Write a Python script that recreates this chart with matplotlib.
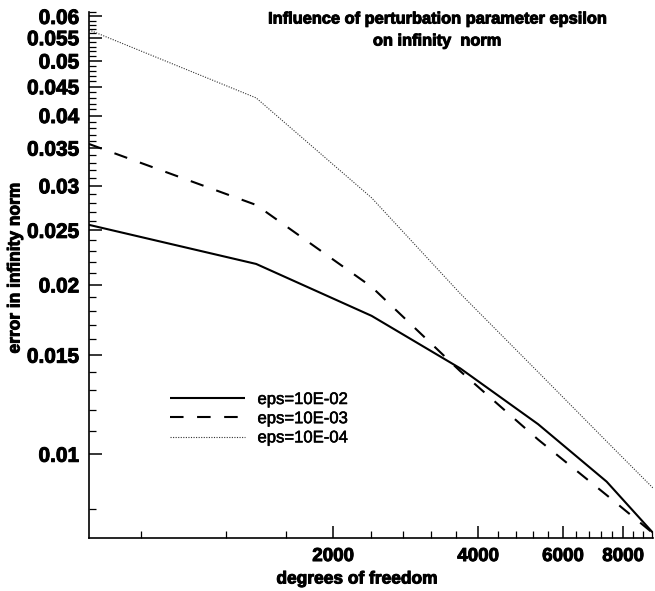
import matplotlib
matplotlib.use("Agg")
import matplotlib.pyplot as plt
import matplotlib.patheffects as pe
from matplotlib.ticker import FixedLocator, NullFormatter, FixedFormatter

plt.rcParams['font.family'] = ['Liberation Sans', 'DejaVu Sans']

# ---- data ----
dof = [623, 1385, 2405, 3670, 5330, 7396, 9230]
err_eps_1e2 = [0.02557, 0.02179, 0.01762, 0.01422, 0.01131, 0.00894, 0.00725]
err_eps_1e3 = [0.0356, 0.02774, 0.01984, 0.01406, 0.01062, 0.00846, 0.00724]
err_eps_1e4 = [0.05679, 0.04299, 0.02856, 0.01932, 0.0140, 0.01054, 0.00871]
labels = ["eps=10E-02", "eps=10E-03", "eps=10E-04"]

x_major = [2000, 4000, 6000, 8000]
x_major_labels = ["2000", "4000", "6000", "8000"]
y_major = [0.01, 0.015, 0.02, 0.025, 0.03, 0.035, 0.04, 0.045, 0.05, 0.055, 0.06]
y_major_labels = ["0.01", "0.015", "0.02", "0.025", "0.03", "0.035", "0.04",
                  "0.045", "0.05", "0.055", "0.06"]

title_l1 = "Influence of perturbation parameter epsilon"
title_l2 = "on infinity  norm"
xlabel = "degrees of freedom"
ylabel = "error in infinity norm"

heavy = [pe.withStroke(linewidth=0.7, foreground='black')]

W, H = 655, 591
fig = plt.figure(figsize=(W / 100, H / 100), dpi=100)
ax = fig.add_axes([89 / W, 1 - 538.3 / H, (653 - 89) / W, (538.3 - 12) / H])

ax.plot(dof, err_eps_1e2, color='black', lw=1.5, solid_capstyle='butt', label=labels[0])
ax.plot(dof, err_eps_1e3, color='black', lw=1.5, dashes=(6.5, 6.5), label=labels[1])
ax.plot(dof, err_eps_1e4, color='#333333', lw=0.8, linestyle=(0, (1, 1.3)), label=labels[2])

ax.set_xscale('log')
ax.set_yscale('log')
ax.set_xlim(dof[0], dof[-1])
ax.set_ylim(0.00709, 0.0611)

for s in ['top', 'right']:
    ax.spines[s].set_visible(False)
for s in ['left', 'bottom']:
    ax.spines[s].set_linewidth(1.2)

ax.xaxis.set_major_locator(FixedLocator(x_major))
ax.xaxis.set_major_formatter(FixedFormatter(x_major_labels))
x_minor = [v for v in range(800, 9600, 400) if v not in x_major]
ax.xaxis.set_minor_locator(FixedLocator(x_minor))
ax.xaxis.set_minor_formatter(NullFormatter())

ax.yaxis.set_major_locator(FixedLocator(y_major))
ax.yaxis.set_major_formatter(FixedFormatter(y_major_labels))
y_minor = [round(v * 0.001, 3) for v in range(8, 62)]
y_minor = [v for v in y_minor if all(abs(v - m) > 1e-6 for m in y_major) and abs(v - 0.009) > 1e-6]
ax.yaxis.set_minor_locator(FixedLocator(y_minor))
ax.yaxis.set_minor_formatter(NullFormatter())

ax.tick_params(which='major', direction='in', length=9, width=1.1, pad=7)
ax.tick_params(axis='x', which='major', labelsize=13.5)
ax.tick_params(axis='y', which='major', labelsize=15)
ax.tick_params(which='minor', direction='in', length=5, width=0.9)
for lab in ax.get_xticklabels() + ax.get_yticklabels():
    lab.set_fontweight('bold')
    lab.set_path_effects(heavy)

fig.text(15 / W, 1 - 268 / H, ylabel, rotation=90, ha='center', va='center',
         fontsize=12.5, fontweight='bold', path_effects=heavy)
fig.text(357 / W, 1 - 579 / H, xlabel, ha='center', va='center',
         fontsize=12.5, fontweight='bold', path_effects=heavy)
fig.text(437 / W, 1 - 19 / H, title_l1, ha='center', va='center',
         fontsize=11.8, fontweight='bold', path_effects=heavy)
fig.text(437 / W, 1 - 41 / H, title_l2, ha='center', va='center',
         fontsize=11.8, fontweight='bold', path_effects=heavy)

leg = ax.legend(loc='upper left', bbox_to_anchor=(170 / W, 1 - 392 / H),
                bbox_transform=fig.transFigure, frameon=False, fontsize=12,
                handlelength=4.5, handletextpad=0.75, labelspacing=0.25,
                borderpad=0, borderaxespad=0)
for t in leg.get_texts():
    t.set_path_effects([pe.withStroke(linewidth=0.4, foreground='black')])

fig.savefig("out.png", dpi=100)
